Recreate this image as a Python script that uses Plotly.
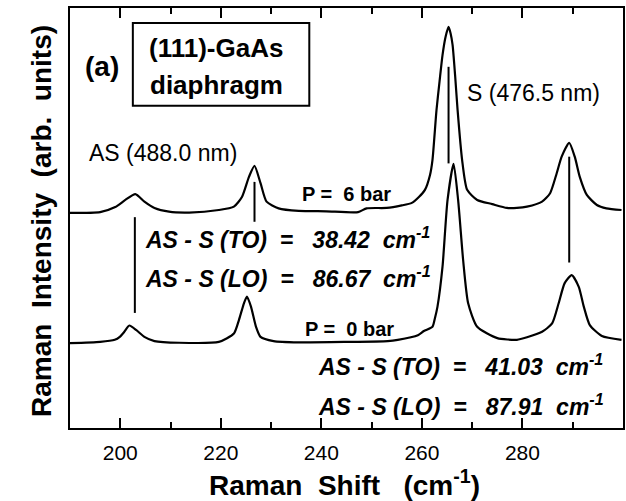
import plotly.graph_objects as go

# ---- data ----
shift_6bar = [190.0, 196.0, 199.0, 201.0, 203.0, 204.8, 206.8, 209.7, 213.7, 219.6,
              222.6, 224.2, 225.6, 226.7, 227.9, 229.1, 231.5, 235.5, 241.0, 247.3,
              249.0, 253.0, 256.0, 258.0, 259.4, 260.6, 261.6, 262.1, 262.9, 263.5,
              264.1, 264.7, 265.3, 265.7, 266.1, 266.6, 267.1, 268.0, 269.0, 271.0,
              274.0, 276.9, 278.9, 280.9, 283.9, 285.5, 286.8, 287.8, 289.3, 290.4,
              291.4, 292.8, 294.8, 296.7, 299.7]
int_6bar = [51.2, 51.4, 52.6, 54.3, 55.7, 53.9, 52.4, 51.5, 51.3, 51.9,
            52.7, 55.0, 59.8, 62.4, 58.3, 53.9, 52.3, 51.7, 51.6, 51.4,
            52.3, 52.4, 53.0, 53.6, 55.0, 56.7, 60.2, 63.8, 75.7, 82.4,
            88.8, 93.1, 95.5, 94.0, 91.2, 84.0, 75.7, 63.8, 56.7, 54.3,
            53.3, 52.4, 52.4, 52.7, 53.9, 55.9, 60.6, 64.6, 67.9, 64.6,
            59.8, 55.5, 53.1, 52.3, 51.9]

shift_0bar = [190.0, 196.0, 198.9, 199.9, 200.8, 201.8, 203.2, 204.8, 206.8, 211.7,
              219.6, 222.6, 223.6, 224.6, 225.2, 226.0, 227.0, 227.9, 230.5, 235.5,
              245.0, 253.2, 255.2, 259.2, 260.4, 262.1, 262.6, 263.1, 264.1, 265.1,
              266.3, 267.2, 268.2, 269.2, 271.0, 275.0, 278.9, 280.9, 283.9, 285.9,
              287.2, 288.4, 289.8, 291.2, 292.2, 293.4, 295.8, 299.7]
int_0bar = [20.2, 20.5, 21.0, 21.7, 22.9, 24.4, 23.3, 21.7, 20.7, 20.3,
            20.5, 22.5, 25.7, 29.7, 31.3, 28.9, 24.1, 21.7, 20.7, 20.4,
            20.5, 20.7, 21.0, 22.1, 23.1, 24.1, 26.2, 28.9, 38.4, 54.3,
            62.9, 54.3, 40.0, 29.7, 24.1, 21.4, 21.0, 21.6, 22.9, 24.9,
            29.7, 34.5, 36.4, 33.6, 28.9, 24.5, 21.9, 21.0]

# vertical marker lines linking the peaks (position, lower end, upper end)
marker_x = [202.9, 226.7, 265.3, 289.3]
marker_lo = [27.4, 49.1, 63.0, 39.4]
marker_hi = [50.2, 58.6, 86.0, 64.6]

x_ticks = [200, 220, 240, 260, 280]

fig = go.Figure()
for xs, ys in ((shift_6bar, int_6bar), (shift_0bar, int_0bar)):
    fig.add_trace(go.Scatter(x=xs, y=ys, mode="lines",
                             line=dict(color="black", width=2.2, shape="spline", smoothing=0.6),
                             showlegend=False))
for mx, lo, hi in zip(marker_x, marker_lo, marker_hi):
    fig.add_trace(go.Scatter(x=[mx, mx], y=[lo, hi], mode="lines",
                             line=dict(color="black", width=2), showlegend=False))

NB = "\u00a0"
F = "Arial, Liberation Sans, sans-serif"

def ann(x, y, text, size, bold=True, italic=False, xanchor="center"):
    t = text
    if bold:
        t = "<b>" + t + "</b>"
    if italic:
        t = "<i>" + t + "</i>"
    fig.add_annotation(x=x, y=y, xref="x", yref="y", text=t, showarrow=False,
                       xanchor=xanchor, yanchor="middle",
                       font=dict(family=F, size=size, color="black"))

ann(196.4, 86.1, "(a)", 28)
ann(219.0, 90.5, "(111)-GaAs", 26)
ann(219.1, 81.7, "diaphragm", 26)
ann(208.4, 65.5, "AS (488.0 nm)", 23, bold=False)
ann(282.1, 79.8, "S (476.5 nm)", 23, bold=False)
ann(245.0, 55.6, "P =" + NB + " 6 bar", 20)
ann(245.5, 23.6, "P =" + NB + " 0 bar", 20)
sup = "<sup>-1</sup>"
ann(204.5, 45.2, "AS - S (TO)" + NB * 2 + "=" + NB * 2 + " 38.42" + NB + " cm" + sup, 23, italic=True, xanchor="left")
ann(204.5, 36.0, "AS - S (LO)" + NB * 2 + "=" + NB * 2 + " 86.67" + NB + " cm" + sup, 23, italic=True, xanchor="left")
ann(238.9, 15.0, "AS - S (TO)" + NB * 2 + "=" + NB * 2 + " 41.03" + NB + " cm" + sup, 23, italic=True, xanchor="left")
ann(238.9, 5.5, "AS - S (LO)" + NB * 2 + "=" + NB * 2 + " 87.91" + NB + " cm" + sup, 23, italic=True, xanchor="left")

# axis titles placed as paper annotations
fig.add_annotation(x=0.496, y=-0.132, xref="paper", yref="paper", showarrow=False,
                   xanchor="center", yanchor="middle",
                   text="<b>Raman" + NB + " Shift" + NB + NB + " (cm<sup>-1</sup>)</b>",
                   font=dict(family=F, size=28, color="black"))
fig.add_annotation(x=-0.0505, y=0.493, xref="paper", yref="paper", showarrow=False,
                   xanchor="center", yanchor="middle", textangle=-90,
                   text="<b>Raman" + NB + " Intensity" + NB + " (arb." + NB + " units)</b>",
                   font=dict(family=F, size=28, color="black"))

fig.add_shape(type="rect", xref="x", yref="y", x0=202.5, x1=237.6, y0=76.7, y1=96.4,
              line=dict(color="black", width=2))

fig.update_layout(
    width=626, height=501,
    margin=dict(l=70, r=1, t=8, b=73),
    paper_bgcolor="white", plot_bgcolor="white",
    showlegend=False,
    xaxis=dict(range=[190, 300], tickvals=x_ticks, ticktext=[str(v) for v in x_ticks],
               ticks="inside", ticklen=10, tickwidth=2, tickcolor="black",
               minor=dict(dtick=10, tick0=190, ticks="inside", ticklen=6, tickwidth=2, tickcolor="black"),
               showline=True, linewidth=2, linecolor="black", mirror="allticks",
               showgrid=False, zeroline=False, ticklabelstandoff=5,
               tickfont=dict(family=F, size=21, color="black")),
    yaxis=dict(range=[0, 100], showticklabels=False, ticks="",
               showline=True, linewidth=2, linecolor="black", mirror=True,
               showgrid=False, zeroline=False),
)

fig.write_html("out.html")
